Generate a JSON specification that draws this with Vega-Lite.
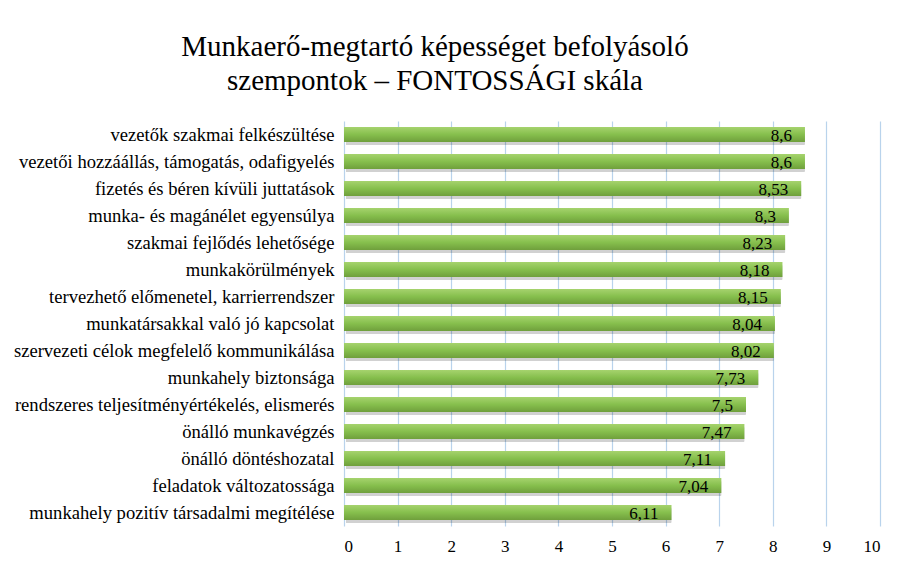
{
  "$schema": "https://vega.github.io/schema/vega-lite/v6.json",
  "width": 536,
  "height": 405,
  "autosize": {"type": "none"},
  "padding": {"left": 344, "top": 121, "right": 23, "bottom": 37},
  "background": "white",
  "config": {
    "view": {"stroke": null},
    "locale": {"number": {"decimal": ",", "thousands": " ", "grouping": [3], "currency": ["", ""]}},
    "font": "Liberation Serif"
  },
  "title": {
    "text": ["Munkaerő-megtartó képességet befolyásoló", "szempontok – FONTOSSÁGI skála"],
    "font": "Liberation Serif",
    "fontSize": 29,
    "fontWeight": "normal",
    "color": "#000000",
    "anchor": "middle",
    "frame": "group",
    "dx": -177,
    "offset": 25,
    "lineHeight": 34
  },
  "data": {
    "values": [
      {"szempont": "vezetők szakmai felkészültése", "ertek": 8.6},
      {"szempont": "vezetői hozzáállás, támogatás, odafigyelés", "ertek": 8.6},
      {"szempont": "fizetés és béren kívüli juttatások", "ertek": 8.53},
      {"szempont": "munka- és magánélet egyensúlya", "ertek": 8.3},
      {"szempont": "szakmai fejlődés lehetősége", "ertek": 8.23},
      {"szempont": "munkakörülmények", "ertek": 8.18},
      {"szempont": "tervezhető előmenetel, karrierrendszer", "ertek": 8.15},
      {"szempont": "munkatársakkal való jó kapcsolat", "ertek": 8.04},
      {"szempont": "szervezeti célok megfelelő kommunikálása", "ertek": 8.02},
      {"szempont": "munkahely biztonsága", "ertek": 7.73},
      {"szempont": "rendszeres teljesítményértékelés, elismerés", "ertek": 7.5},
      {"szempont": "önálló munkavégzés", "ertek": 7.47},
      {"szempont": "önálló döntéshozatal", "ertek": 7.11},
      {"szempont": "feladatok változatossága", "ertek": 7.04},
      {"szempont": "munkahely pozitív társadalmi megítélése", "ertek": 6.11}
    ]
  },
  "encoding": {
    "y": {
      "field": "szempont",
      "type": "nominal",
      "sort": null,
      "scale": {"paddingInner": 0.44, "paddingOuter": 0.22},
      "axis": {
        "title": null,
        "domain": false,
        "ticks": false,
        "labelFont": "Liberation Serif",
        "labelFontSize": 18.6,
        "labelColor": "#000000",
        "labelPadding": 10,
        "labelLimit": 400
      }
    },
    "x": {
      "field": "ertek",
      "type": "quantitative",
      "scale": {"domain": [0, 10], "nice": false},
      "axis": {
        "title": null,
        "values": [0, 1, 2, 3, 4, 5, 6, 7, 8, 9, 10],
        "format": "d",
        "domain": false,
        "ticks": false,
        "grid": true,
        "gridColor": "#b9d3ec",
        "gridWidth": 1.2,
        "labelFont": "Liberation Serif",
        "labelFontSize": 17,
        "labelColor": "#000000",
        "labelPadding": 12
      }
    }
  },
  "layer": [
    {
      "mark": {"type": "bar", "color": "#000000", "opacity": 0.18, "xOffset": 2, "yOffset": 3, "cornerRadius": 1}
    },
    {
      "mark": {
        "type": "bar",
        "color": {
          "gradient": "linear",
          "x1": 0, "y1": 0, "x2": 0, "y2": 1,
          "stops": [
            {"offset": 0, "color": "#a6d36e"},
            {"offset": 0.5, "color": "#86bf4d"},
            {"offset": 1, "color": "#6f9f3c"}
          ]
        }
      }
    },
    {
      "mark": {"type": "text", "align": "right", "baseline": "middle", "dx": -13, "dy": 1, "font": "Liberation Serif", "fontSize": 17, "color": "#000000"},
      "encoding": {
        "text": {"field": "ertek", "type": "quantitative", "format": ".2~f"}
      }
    }
  ]
}
